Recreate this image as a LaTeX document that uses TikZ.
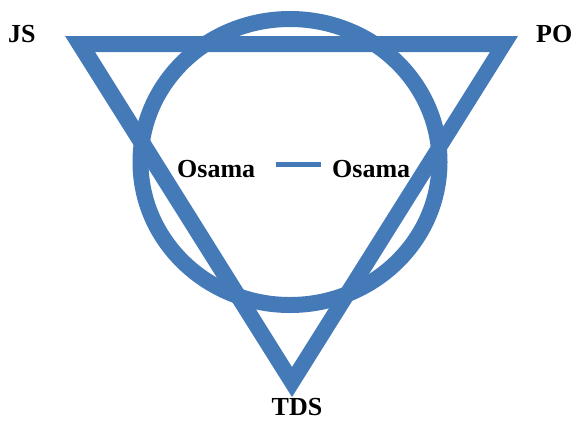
\documentclass[tikz,border=0pt]{standalone}
\usepackage{fontspec}
\setmainfont{Liberation Serif}
\usetikzlibrary{shapes.geometric}
\definecolor{shapeblue}{RGB}{69,122,185}
\begin{document}
\begin{tikzpicture}[x=1pt,y=-1pt,
  lbl/.style={font=\fontsize{26}{30}\selectfont\bfseries, text=black, inner sep=0pt, text depth=0pt},
  band/.style={fill=shapeblue, even odd rule},
  ring/.style={draw=shapeblue, line width=16pt}]
\useasboundingbox (0,0) rectangle (572,421);
% triangle band
\path[band] (65,36) -- (518,36) -- (292,397) -- cycle
            (95,52) -- (490,52) -- (292,367) -- cycle;
% ring
\node[ring, ellipse, minimum width=299pt, minimum height=286pt, inner sep=0pt] (ring) at (290,162) {};
% labels
\node[lbl, anchor=base west] (js) at (8,42) {JS};
\node[lbl, anchor=base west] (po) at (536,42) {PO};
\node[lbl, anchor=base] (tds) at (297,415) {TDS};
\node[lbl, anchor=base west] (o1) at (177,177) {Osama};
\node[lbl, anchor=base west] (o2) at (332,177) {Osama};
\coordinate (d1) at (276,164);
\coordinate (d2) at (321,164);
\draw[shapeblue, line width=5pt] (d1) -- (d2);
\end{tikzpicture}
\end{document}
